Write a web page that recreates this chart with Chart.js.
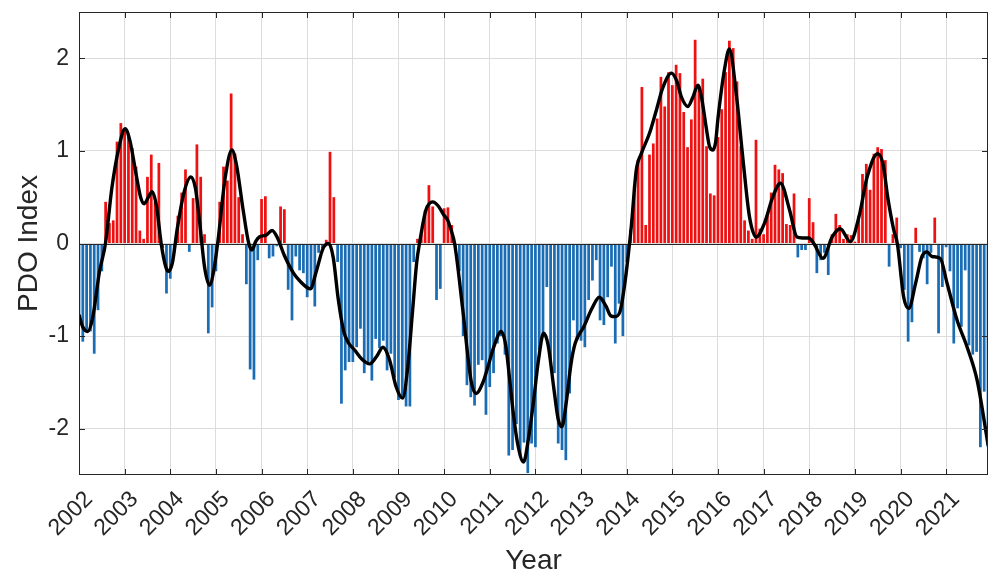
<!DOCTYPE html>
<html>
<head>
<meta charset="utf-8">
<title>PDO Index 2002-2021</title>
<script src="https://cdn.jsdelivr.net/npm/chart.js@4.4.1/dist/chart.umd.min.js"></script>
<style>
  html, body { margin: 0; padding: 0; background: #ffffff; }
  #wrap { width: 989px; height: 575px; position: relative; }
</style>
</head>
<body>
<div id="wrap"><canvas id="pdo" width="989" height="575"></canvas></div>
<script>
// Monthly PDO index values, Jan..Dec of each year
const pdo2002 = [-0.80, -1.06, -0.93, -0.95, -1.19, -0.72, -0.30, 0.45, 0.22, 0.25, 1.10, 1.30];
const pdo2003 = [1.22, 1.15, 1.03, 0.83, 0.14, 0.05, 0.72, 0.96, 0.45, 0.87, -0.05, -0.54];
const pdo2004 = [-0.38, -0.10, 0.30, 0.55, 0.80, -0.09, 0.49, 1.07, 0.72, 0.10, -0.97, -0.69];
const pdo2005 = [-0.30, 0.45, 0.83, 0.68, 1.62, 0.97, 0.50, 0.10, -0.44, -1.36, -1.47, -0.18];
const pdo2006 = [0.48, 0.51, -0.16, -0.14, -0.03, 0.40, 0.37, -0.50, -0.83, -0.14, -0.29, -0.32];
const pdo2007 = [-0.58, -0.49, -0.68, -0.10, -0.05, 0.04, 0.99, 0.50, -0.20, -1.73, -1.37, -1.28];
const pdo2008 = [-1.28, -1.12, -0.92, -1.40, -1.30, -1.48, -1.03, -1.13, -1.05, -1.37, -1.19, -1.45];
const pdo2009 = [-1.69, -1.65, -1.76, -1.76, -0.20, 0.05, 0.10, 0.36, 0.63, 0.40, -0.61, -0.49];
const pdo2010 = [0.38, 0.39, 0.20, -0.05, -0.30, -1.00, -1.53, -1.66, -1.75, -1.31, -1.26, -1.85];
const pdo2011 = [-1.55, -1.40, -1.08, -1.00, -1.20, -2.29, -2.23, -1.95, -2.29, -2.15, -2.48, -2.16];
const pdo2012 = [-2.20, -1.15, -1.00, -0.47, -1.26, -1.40, -2.16, -2.23, -2.34, -1.62, -0.83, -1.04];
const pdo2013 = [-1.05, -1.12, -0.61, -0.40, -0.18, -0.83, -0.88, -0.58, -0.25, -1.08, -0.65, -1.00];
const pdo2014 = [-0.20, 0.15, 0.63, 0.90, 1.69, 0.20, 0.96, 1.08, 1.35, 1.80, 1.48, 1.85];
const pdo2015 = [1.71, 1.93, 1.84, 1.42, 1.04, 1.34, 2.20, 1.70, 1.78, 1.05, 0.54, 0.52];
const pdo2016 = [1.15, 1.45, 1.85, 2.19, 2.11, 1.75, 1.05, 0.25, 0.14, 0.05, 1.12, 0.16];
const pdo2017 = [0.10, 0.30, 0.55, 0.85, 0.80, 0.76, 0.21, 0.20, 0.54, -0.15, -0.07, -0.07];
const pdo2018 = [0.49, 0.23, -0.32, -0.18, -0.10, -0.34, 0.10, 0.32, 0.20, 0.05, 0.10, 0.09];
const pdo2019 = [0.02, 0.30, 0.75, 0.86, 0.58, 0.97, 1.04, 1.02, 0.90, -0.25, 0.10, 0.28];
const pdo2020 = [-0.05, -0.50, -1.06, -0.85, 0.17, -0.09, -0.16, -0.44, -0.10, 0.28, -0.97, -0.47];
const pdo2021 = [-0.04, -0.30, -1.08, -0.70, -0.90, -0.29, -1.10, -1.20, -1.17, -2.20, -1.60, -2.20];

// Smoothed PDO curve (decimal year, index)
const smoothYear = [
  2002.00, 2002.08, 2002.19, 2002.30, 2002.45, 2002.58, 2002.72, 2002.88, 2003.01, 2003.12,
  2003.25, 2003.35, 2003.43, 2003.52, 2003.60, 2003.70, 2003.80, 2003.90, 2003.96, 2004.05,
  2004.15, 2004.30, 2004.45, 2004.55, 2004.65, 2004.75, 2004.86, 2004.95, 2005.05, 2005.20,
  2005.35, 2005.45, 2005.60, 2005.72, 2005.79, 2005.87, 2005.95, 2006.10, 2006.23, 2006.35,
  2006.50, 2006.70, 2006.85, 2007.07, 2007.20, 2007.35, 2007.47, 2007.57, 2007.68, 2007.80,
  2007.90, 2008.04, 2008.20, 2008.37, 2008.52, 2008.66, 2008.80, 2008.95, 2009.09, 2009.20,
  2009.31, 2009.40, 2009.46, 2009.60, 2009.75, 2009.88, 2009.99, 2010.08, 2010.15, 2010.23,
  2010.41, 2010.59, 2010.70, 2010.85, 2010.96, 2011.10, 2011.25, 2011.35, 2011.43, 2011.52,
  2011.61, 2011.74, 2011.85, 2011.96, 2012.07, 2012.18, 2012.28, 2012.40, 2012.50, 2012.58,
  2012.68, 2012.78, 2012.87, 2013.06, 2013.24, 2013.40, 2013.55, 2013.65, 2013.74, 2013.85,
  2013.96, 2014.04, 2014.10, 2014.21, 2014.32, 2014.50, 2014.65, 2014.79, 2014.98, 2015.10,
  2015.20, 2015.34, 2015.45, 2015.56, 2015.65, 2015.74, 2015.82, 2015.89, 2015.95, 2016.00,
  2016.15, 2016.25, 2016.40, 2016.55, 2016.69, 2016.84, 2017.02, 2017.20, 2017.37, 2017.57,
  2017.73, 2017.85, 2017.99, 2018.10, 2018.30, 2018.50, 2018.68, 2018.90, 2019.09, 2019.27,
  2019.50, 2019.62, 2019.72, 2019.85, 2019.93, 2020.07, 2020.18, 2020.33, 2020.47, 2020.58,
  2020.69, 2020.87, 2021.02, 2021.24, 2021.46, 2021.68, 2021.92
];
const smoothValue = [
  -0.77, -0.90, -0.95, -0.80, -0.30, 0.00, 0.60, 1.05, 1.24, 1.10,
  0.75, 0.50, 0.43, 0.50, 0.56, 0.40, 0.00, -0.25, -0.30, -0.20,
  0.15, 0.55, 0.72, 0.60, 0.20, -0.25, -0.45, -0.30, 0.05, 0.70,
  1.01, 0.85, 0.35, 0.00, -0.07, 0.02, 0.07, 0.09, 0.14, 0.06,
  -0.13, -0.32, -0.41, -0.49, -0.30, -0.05, 0.00, -0.15, -0.60, -0.95,
  -1.07, -1.15, -1.25, -1.30, -1.22, -1.12, -1.25, -1.55, -1.67, -1.35,
  -0.72, -0.20, 0.00, 0.36, 0.45, 0.40, 0.31, 0.25, 0.15, 0.00,
  -0.72, -1.48, -1.62, -1.50, -1.33, -1.10, -0.95, -1.10, -1.44, -1.85,
  -2.16, -2.36, -2.10, -1.70, -1.25, -0.97, -1.10, -1.55, -1.90, -1.98,
  -1.70, -1.30, -1.08, -0.90, -0.70, -0.58, -0.68, -0.78, -0.79, -0.74,
  -0.43, -0.10, 0.18, 0.79, 0.97, 1.19, 1.44, 1.68, 1.84, 1.75,
  1.58, 1.48, 1.58, 1.71, 1.55, 1.26, 1.04, 1.01, 1.10, 1.35,
  1.90, 2.10, 1.62, 0.90, 0.29, 0.07, 0.22, 0.50, 0.65, 0.36,
  0.07, 0.06, 0.06, 0.00, -0.16, 0.07, 0.16, 0.02, 0.29, 0.72,
  0.97, 0.85, 0.50, 0.15, 0.00, -0.58, -0.70, -0.43, -0.14, -0.09,
  -0.14, -0.16, -0.43, -0.83, -1.12, -1.48, -2.18
];

// Axis ticks
const yearTicks = [2002, 2003, 2004, 2005, 2006, 2007, 2008, 2009, 2010, 2011,
                   2012, 2013, 2014, 2015, 2016, 2017, 2018, 2019, 2020, 2021];
const indexTicks = [-2, -1, 0, 1, 2];

const firstYear = 2002;
const monthly = [].concat(pdo2002, pdo2003, pdo2004, pdo2005, pdo2006, pdo2007, pdo2008,
  pdo2009, pdo2010, pdo2011, pdo2012, pdo2013, pdo2014, pdo2015, pdo2016, pdo2017,
  pdo2018, pdo2019, pdo2020, pdo2021);
const barPoints = monthly.map((v, i) => ({ x: firstYear + i / 12, y: v }));
const curvePoints = smoothYear.map((yr, i) => ({ x: yr, y: smoothValue[i] }));

const FONT = '"Liberation Sans", Arial, Helvetica, sans-serif';
const INK = '#262626';
const GRID = '#dcdcdc';

// Box around the axes, inward tick marks and the zero baseline
const axesFrame = {
  id: 'axesFrame',
  afterDatasetDraw(chart, args) {
    if (args.meta.type !== 'bar') return;
    const { ctx, chartArea: a, scales: { y } } = chart;
    const py = Math.round(y.getPixelForValue(0)) + 0.5;
    ctx.save();
    ctx.strokeStyle = INK;
    ctx.lineWidth = 1;
    ctx.beginPath();
    ctx.moveTo(a.left, py);
    ctx.lineTo(a.right, py);
    ctx.stroke();
    ctx.restore();
  },
  afterDraw(chart) {
    const { ctx, chartArea: a, scales: { x, y } } = chart;
    const len = 6;
    ctx.save();
    ctx.strokeStyle = INK;
    ctx.lineWidth = 1;
    ctx.beginPath();
    x.ticks.forEach(t => {
      const px = Math.round(x.getPixelForValue(t.value)) + 0.5;
      ctx.moveTo(px, a.bottom); ctx.lineTo(px, a.bottom - len);
      ctx.moveTo(px, a.top); ctx.lineTo(px, a.top + len);
    });
    y.ticks.forEach(t => {
      const py = Math.round(y.getPixelForValue(t.value)) + 0.5;
      ctx.moveTo(a.left, py); ctx.lineTo(a.left + len, py);
      ctx.moveTo(a.right, py); ctx.lineTo(a.right - len, py);
    });
    ctx.stroke();
    ctx.strokeRect(Math.round(a.left) + 0.5, Math.round(a.top) + 0.5,
                   Math.round(a.right - a.left) - 1, Math.round(a.bottom - a.top) - 1);
    ctx.restore();
  }
};

new Chart(document.getElementById('pdo'), {
  type: 'bar',
  data: {
    datasets: [
      {
        type: 'line',
        data: curvePoints,
        borderColor: '#000000',
        borderWidth: 3.4,
        pointRadius: 0,
        cubicInterpolationMode: 'monotone',
        clip: 0,
        order: 0
      },
      {
        type: 'bar',
        data: barPoints,
        backgroundColor: c => (c.raw && c.raw.y >= 0) ? '#ee1111' : '#1a6db5',
        borderWidth: 0,
        barPercentage: 0.72,
        categoryPercentage: 1,
        clip: 0,
        order: 1
      }
    ]
  },
  options: {
    responsive: false,
    animation: false,
    events: [],
    layout: { padding: { top: 12, right: 1, bottom: 0, left: 0 } },
    plugins: { legend: { display: false }, tooltip: { enabled: false } },
    scales: {
      x: {
        type: 'linear',
        min: firstYear,
        max: 2021 + 11 / 12,
        offset: false,
        afterBuildTicks: s => { s.ticks = yearTicks.map(v => ({ value: v })); },
        afterFit: s => { s.height = 100; s.paddingLeft = 0; s.paddingRight = 0; },
        border: { display: false },
        grid: { color: GRID, lineWidth: 1, drawTicks: false, offset: false },
        ticks: {
          autoSkip: false,
          minRotation: 45,
          maxRotation: 45,
          padding: 11,
          labelOffset: 10,
          color: INK,
          font: { family: FONT, size: 23 },
          callback: v => String(v)
        },
        title: {
          display: true,
          text: 'Year',
          color: INK,
          font: { family: FONT, size: 28, lineHeight: 1 },
          padding: { top: 0, bottom: 0 }
        }
      },
      y: {
        min: -2.5,
        max: 2.5,
        afterBuildTicks: s => { s.ticks = indexTicks.map(v => ({ value: v })); },
        afterFit: s => { s.width = 79; s.paddingTop = 0; s.paddingBottom = 0; },
        border: { display: false },
        grid: { color: GRID, lineWidth: 1, drawTicks: false },
        ticks: {
          padding: 10,
          color: INK,
          font: { family: FONT, size: 23 },
          callback: v => String(v)
        },
        title: {
          display: true,
          text: 'PDO Index',
          color: INK,
          font: { family: FONT, size: 28, lineHeight: 1 },
          padding: { top: 15, bottom: 0 }
        }
      }
    }
  },
  plugins: [axesFrame]
});
</script>
</body>
</html>
